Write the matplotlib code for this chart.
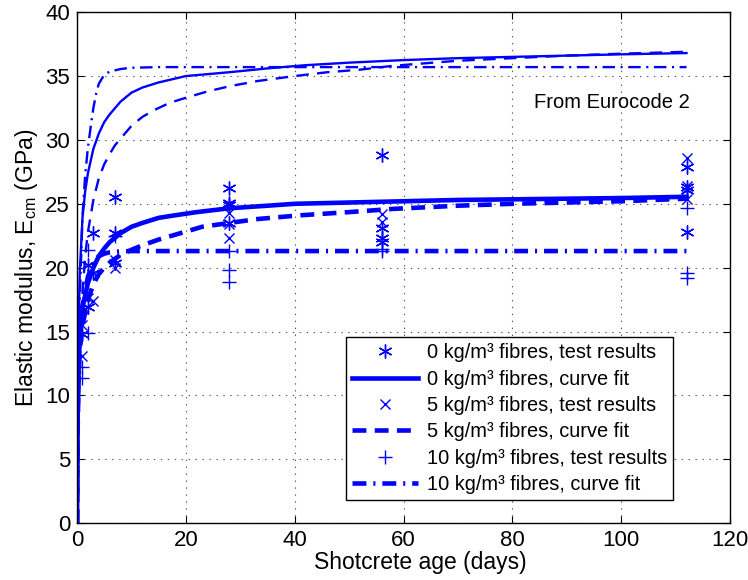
import matplotlib
matplotlib.use("Agg")
import matplotlib.pyplot as plt

plt.rcParams['font.family'] = ['Liberation Sans', 'DejaVu Sans']
plt.rcParams['mathtext.fontset'] = 'custom'
plt.rcParams['mathtext.rm'] = 'Liberation Sans'
plt.rcParams['mathtext.it'] = 'Liberation Sans'
plt.rcParams['lines.scale_dashes'] = False

# ---------------- data ----------------
# test results
t0 = [1, 1, 2, 2, 3, 3, 7, 7, 7, 28, 28, 28, 28, 56, 56, 56, 56, 112, 112, 112, 112]
E0 = [14.8, 16.7, 16.9, 20.2, 19.6, 22.7, 25.5, 22.7, 20.4, 26.2, 25.1, 24.9, 23.5,
      28.8, 23.1, 22.3, 22.0, 27.9, 26.1, 26.3, 22.8]
t5 = [1, 1, 2, 3, 7, 7, 28, 28, 28, 56, 56, 112, 112, 112]
E5 = [13.1, 15.5, 17.6, 17.4, 20.6, 20.0, 24.3, 23.4, 22.3, 24.2, 23.6, 28.6, 26.4, 25.4]
t10 = [1, 1, 2, 2, 7, 28, 28, 28, 56, 56, 112, 112, 112]
E10 = [11.4, 12.2, 14.9, 21.4, 22.5, 21.3, 19.8, 18.9, 21.5, 21.3, 24.7, 19.6, 19.2]

# curve fits
fit0_t = [0, 0.1, 0.25, 0.5, 1, 2, 3, 4, 5, 6, 8, 10, 12, 15, 18, 22, 28, 35, 40, 50, 60, 70, 80, 90, 100, 112]
fit0_E = [0, 8, 12, 14.8, 16.9, 18.8, 20.0, 20.9, 21.5, 22.0, 22.7, 23.2, 23.5, 23.9, 24.1,
          24.35, 24.65, 24.85, 25.0, 25.1, 25.2, 25.3, 25.35, 25.4, 25.45, 25.55]
fit5_t = [0, 0.1, 0.25, 0.5, 1, 2, 3, 4, 5, 6, 8, 10, 12, 15, 19, 23, 28, 33, 41, 50, 58, 70, 80, 90, 100, 112]
fit5_E = [0, 7, 11, 13.5, 15.5, 17.5, 18.7, 19.5, 20.0, 20.4, 21.0, 21.4, 21.75, 22.2, 22.7,
          23.2, 23.5, 23.8, 24.1, 24.35, 24.6, 24.85, 25.0, 25.1, 25.2, 25.4]
fit10_t = [0, 0.1, 0.25, 0.5, 1, 2, 3, 4, 5, 6, 8, 10, 112]
fit10_E = [0, 8, 12, 14.5, 17, 19.3, 20.4, 20.9, 21.1, 21.2, 21.28, 21.3, 21.3]

# Eurocode 2 curves
ec0_t = [0, 0.1, 0.25, 0.5, 1, 1.5, 2, 3, 4, 5, 6, 8, 10, 12, 15, 20, 28, 35, 42, 50, 60, 70, 80, 90, 100, 112]
ec0_E = [0, 8.6, 15, 19.6, 23.9, 26.0, 27.4, 29.3, 30.5, 31.4, 32.0, 33.0, 33.7, 34.1, 34.5,
         35.0, 35.3, 35.6, 35.85, 36.05, 36.25, 36.4, 36.5, 36.6, 36.7, 36.8]
ec5_t = [0, 0.25, 0.5, 1, 1.5, 2, 3, 4, 5, 6, 7, 8, 10, 12, 14, 17, 20, 24, 28, 33, 40, 46, 52, 58, 70, 80, 90, 100, 112]
ec5_E = [0, 8.1, 12.9, 18.0, 20.9, 22.8, 25.3, 27.0, 28.1, 28.9, 29.6, 30.1, 31.1, 31.8, 32.3,
         32.9, 33.3, 33.8, 34.2, 34.6, 35.0, 35.3, 35.5, 35.8, 36.2, 36.4, 36.6, 36.75, 36.9]
ec10_t = [0, 0.25, 0.5, 1, 1.5, 2, 2.5, 3, 3.5, 4, 5, 6, 8, 10, 15, 112]
ec10_E = [0, 11, 17.5, 24, 27.3, 29.4, 31.0, 32.5, 33.6, 34.4, 35.1, 35.35, 35.55, 35.65, 35.7, 35.7]

labels = ['0 kg/m\u00b3 fibres, test results', '0 kg/m\u00b3 fibres, curve fit',
          '5 kg/m\u00b3 fibres, test results', '5 kg/m\u00b3 fibres, curve fit',
          '10 kg/m\u00b3 fibres, test results', '10 kg/m\u00b3 fibres, curve fit']

# ---------------- plot ----------------
fig = plt.figure(figsize=(7.48, 5.8), dpi=100)
ax = fig.add_axes([0.103, 0.098, 0.873, 0.881])
blue = (0, 0, 1)

ast = (6, 2, 0)
h1, = ax.plot(t0, E0, linestyle='none', marker=ast, ms=10, mec=blue, mew=1.0, color=blue)
h2, = ax.plot(fit0_t, fit0_E, '-', color=blue, lw=3.3)
h3, = ax.plot(t5, E5, linestyle='none', marker='x', ms=7, mec=blue, mew=1.0, color=blue)
h4, = ax.plot(fit5_t, fit5_E, color=blue, lw=3.3, linestyle=(0, (10, 6)))
h5, = ax.plot(t10, E10, linestyle='none', marker='+', ms=10, mec=blue, mew=1.0, color=blue)
h6, = ax.plot(fit10_t, fit10_E, color=blue, lw=3.3, linestyle=(0, (10, 5, 1.5, 5)))

ax.plot(ec0_t, ec0_E, '-', color=blue, lw=1.7)
ax.plot(ec5_t, ec5_E, color=blue, lw=1.7, linestyle=(0, (9, 6)))
ax.plot(ec10_t, ec10_E, color=blue, lw=1.7, linestyle=(0, (9, 4, 1.5, 4)))

ax.text(84.0, 32.9, 'From Eurocode 2', fontsize=14.5, va='center', ha='left')

ax.set_xlim(0, 120)
ax.set_ylim(0, 40)
ax.set_xticks([0, 20, 40, 60, 80, 100, 120])
ax.set_yticks([0, 5, 10, 15, 20, 25, 30, 35, 40])
ax.tick_params(direction='in', top=True, right=True, labelsize=16, length=5, width=0.8, pad=5)
ax.grid(True, linestyle=(0, (1, 4)), color='0.35', linewidth=0.8)
for s in ax.spines.values():
    s.set_linewidth(1.0)
ax.set_xlabel('Shotcrete age (days)', fontsize=16.5, labelpad=1)
ax.xaxis.set_label_coords(0.525, -0.055)
ax.set_ylabel(r'Elastic modulus, E$_{\mathrm{cm}}$ (GPa)', fontsize=16.5, labelpad=4)

leg = ax.legend([h1, h2, h3, h4, h5, h6], labels, loc='lower right',
                bbox_to_anchor=(0.913, 0.045), borderaxespad=0, fontsize=14.4,
                numpoints=1, handlelength=3.3, handletextpad=0.45, labelspacing=0.37,
                fancybox=False, framealpha=1, edgecolor='black', borderpad=0.3)
leg.get_frame().set_linewidth(1.0)

fig.savefig('out.png', dpi=100)
